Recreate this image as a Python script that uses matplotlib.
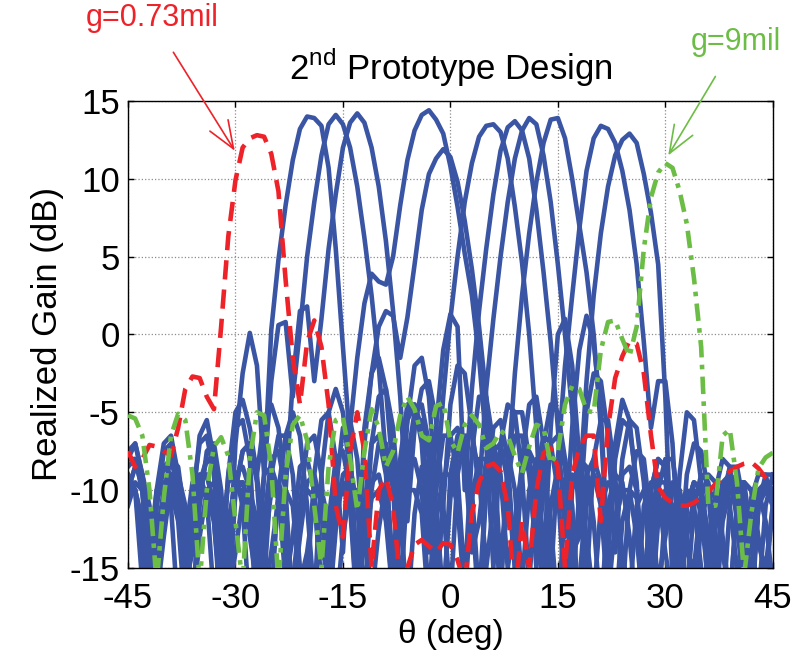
import numpy as np
import matplotlib
matplotlib.use('Agg')
import matplotlib.pyplot as plt

plt.rcParams['font.family'] = ['Liberation Sans', 'DejaVu Sans']
plt.rcParams['mathtext.fontset'] = 'custom'
plt.rcParams['mathtext.rm'] = 'Liberation Sans'
plt.rcParams['axes.unicode_minus'] = False

# scan angle grid (deg)
theta = np.arange(-45, 46, 1)

# realized gain (dB) of the 11 switched beams, one list per beam
beams = [
    # beam 1, peak near -20 deg
    [-8, -7, -9, -14, -18, -10, -8, -8.5, -12, -18,
     -11, -7.5, -7, -10, -16, -7, -2.5, 0.1, -2, -9,
     0.3, 4.8, 8.3, 11.2, 13.2, 14.0, 13.9, 13.4, 10.7, 5.5,
     -0.8, -7, -16, -6, -2.5, -1.5, -3.5, -9, -17, -8,
     -5, -4.5, -7, -13, -18, -9, -6.5, -7, -11, -18,
     -10, -7.5, -7, -9.5, -15, -9, -7.5, -8.5, -14, -11,
     -8.5, -8, -11, -18, -11, -9, -10, -14, -18, -12,
     -10, -10.5, -15, -18, -12, -10, -11, -16, -13, -10.5,
     -10, -13, -18, -12, -10, -10.5, -15, -17, -11, -10,
     -11],
    # beam 2, peak near -16 deg
    [-8.5, -8, -10, -16, -11, -7.5, -7, -9, -17, -11,
     -6.5, -5.5, -8, -15, -9, -6, -5.5, -8, -16, -9,
     -3, 0.6, 0.8, -4, 0.3, 5, 8.5, 11.5, 13.5, 14.1,
     13.5, 12, 9.5, 6.2, 2.5, -2, -8, -16, -9, -5.5,
     -4.5, -6, -11, -18, -10, -6.5, -6, -8, -14, -12,
     -8, -7, -9, -15, -12, -8.5, -8, -10.5, -17, -11,
     -9, -9.5, -14, -16, -10, -9, -11, -17, -12, -10,
     -10, -13, -18, -12, -9.5, -9.5, -12.5, -17, -11, -10,
     -11.5, -16, -12, -9.5, -9, -11, -16, -13, -10, -9.5,
     -10.5],
    # beam 3, peak near -13 deg
    [-7.5, -7, -9, -15, -10, -7, -6.5, -9, -16, -10.5,
     -7, -6.5, -9, -16, -9, -5, -4.2, -6, -9, -5.5,
     -4.5, -6, -10, -3, 1.5, 1.8, -3, 1, 5.5, 9,
     12, 13.6, 14.2, 13.6, 12, 9.5, 6, 1.5, -4, -12,
     -6, -3.5, -3, -5.5, -11, -17, -9, -6.5, -6.5, -9,
     -15, -11, -8, -7.5, -10, -16, -10, -8, -8.5, -12,
     -18, -11, -9, -9.5, -13, -17, -11, -9.5, -10, -14,
     -17, -11, -10, -11, -16, -13, -10, -10, -13, -18,
     -12, -10, -10.5, -14, -17, -11, -9.5, -10, -13, -16,
     -11],
    # beam 4, peak near -3 deg
    [-10, -8.5, -9, -12, -18, -11, -9, -9.5, -13, -18,
     -10, -8, -8, -11, -17, -10, -7.5, -7, -9.5, -16,
     -9, -6.5, -6.5, -9, -15, -16, -9, -5.5, -5, -8,
     -14, -6, -1.5, 2, 3.9, 3.4, 3.2, 5, 8.3, 11.2,
     13.1, 14.1, 14.4, 13.8, 12.9, 10.8, 8.2, 5.2, 2.5, -1.5,
     -7, -15, -7, -4.5, -5, -9, -16, -9, -6.5, -7,
     -10, -17, -10, -8, -8.5, -12, -18, -11, -9, -9.5,
     -13, -18, -11, -9.5, -10, -14, -17, -11, -10, -11,
     -15, -16, -11, -10, -11, -15, -14, -10.5, -10, -12,
     -16],
    # beam 5, peak near -1 deg
    [-9, -10, -14, -17, -11, -8.5, -8, -10, -15, -14,
     -9.5, -8, -8.5, -12, -18, -10, -7.5, -7, -9, -14,
     -17, -10, -6.5, -5, -6.5, -11, -17, -9, -5, -3.5,
     -5, -9, -15, -7, -2.5, 0.5, 1.5, 1.2, -1.5, 1.1,
     4.5, 8, 10.3, 11.3, 11.9, 11.4, 9.8, 7.3, 4.2, 0.5,
     -4, -10, -17, -8, -5, -5, -8, -15, -10, -7,
     -6.5, -8.5, -14, -13, -9, -8, -9.5, -15, -13, -9,
     -8.5, -10, -16, -12, -9, -9, -12, -18, -11, -9.5,
     -10, -13.5, -17, -11, -9.5, -10, -14, -15, -10.5, -9.5,
     -10],
    # beam 6, peak near 5.6 deg
    [-11, -9.5, -10, -14, -15, -10.5, -9.5, -10.5, -16, -13,
     -9.5, -9, -11, -18, -13, -9, -8.5, -10, -17, -12,
     -8, -7.5, -10, -18, -11, -7, -6.5, -9, -17, -10,
     -6, -5.5, -8, -14, -7, -4, -3.5, -6, -12, -5.5,
     -2, -1.5, -4, -10, -4, 1, 5, 8.5, 11, 12.7,
     13.4, 13.5, 13, 11.3, 8.2, 4.6, 0, -6, -15, -6,
     0, 1, -2, -8, -16, -8, -5.5, -5.5, -9, -17,
     -10, -7.5, -8, -12, -18, -11, -9.5, -10, -14, -15,
     -10.5, -9, -9.5, -13, -17, -11, -9.5, -10, -13.5, -15,
     -11],
    # beam 7, peak near 8.8 deg
    [-9, -10, -16, -14, -10, -9.5, -11, -18, -13, -9.5,
     -9, -10.5, -17, -13, -9.5, -9, -11, -18, -13, -9,
     -8.5, -10, -16, -13, -8.5, -8, -10, -17, -12, -8,
     -7.5, -10, -18, -11, -7, -6.5, -9, -15, -8, -4.5,
     -4.5, -7, -14, -6, -1, 1.3, 0.5, -10, -3.5, 1.5,
     5.5, 9, 11.8, 13.3, 13.7, 13.1, 11.3, 8, 4, -0.5,
     -6, -13, -6, -1, 1.2, -0.5, -5, -14, -8, -5.5,
     -6, -9.5, -17, -10, -8, -8.5, -12, -18, -11, -9.5,
     -10, -13, -17, -11, -9, -9.5, -13, -18, -11, -9.5,
     -9.5],
    # beam 8, peak near 11.3 deg
    [-10, -10, -12, -17, -14, -10.5, -10, -11, -16, -14,
     -10.5, -10, -12, -18, -13, -10, -9.5, -11, -17, -14,
     -10, -9.5, -11, -17, -13, -9.5, -9, -11, -18, -12.5,
     -9, -8.5, -11, -17, -10, -7, -7, -10, -17, -9.5,
     -6, -5.5, -8, -16, -11, -4.5, -2, -2.5, -6, -10,
     -3.5, 1, 5, 8.5, 11.3, 13.1, 13.9, 13.5, 11.5, 8.5,
     4.5, 0, -5, -12, -5, -2.5, -3, -6.5, -14, -8,
     -5.5, -6, -9.5, -16, -10, -8, -8, -11, -17, -11,
     -9, -9.5, -13, -18, -11, -9.5, -9.5, -13, -17, -11,
     -9],
    # beam 9, peak near 14.6 deg
    [-10.5, -10, -12, -18, -13, -10, -10, -12, -18, -12.5,
     -10, -10, -12, -17, -12, -10, -10, -13, -16, -11.5,
     -10, -10.5, -14, -16, -11.5, -10, -10.5, -16, -14, -10,
     -9.5, -11, -18, -13, -9.5, -9, -11, -17, -11, -8,
     -8, -10, -17, -10, -6.5, -6.5, -9, -16, -7.5, -4,
     -4, -7, -15, -9, -2.5, 2.5, 6.5, 9.8, 12.3, 13.8,
     13.9, 12.6, 10, 7, 4, 0, -6, -14, -7, -4.2,
     -5.5, -10, -17, -10, -8, -8.5, -12, -18, -11, -9.5,
     -10, -13.5, -16, -10.5, -9, -9.5, -13, -17, -11, -9.5,
     -10],
    # beam 10, peak near 21.3 deg
    [-10, -8.5, -9, -11, -17, -13, -9.5, -9, -11, -18,
     -13, -10, -9.5, -11, -17, -14, -10.5, -10, -12, -17,
     -14, -10.5, -10, -11, -16, -14, -10.5, -10, -12, -18,
     -13, -10, -10, -11.5, -17, -12.5, -9.5, -9, -11, -18,
     -11.5, -8.5, -8.5, -11, -17, -10.5, -7.5, -7.5, -10, -17,
     -9.5, -6, -5.5, -8, -15, -8, -4.5, -4, -7, -16,
     -8, -2, 2.5, 6.8, 10.5, 12.6, 13.4, 13.2, 12.3, 10.5,
     8, 4.5, -0.5, -6, -3, -3, -7, -15, -9, -7,
     -7.5, -10, -16, -10.5, -8.5, -8.5, -11, -17, -11, -9,
     -9],
    # beam 11, peak near 24.8 deg
    [-8, -8, -10, -16, -10.5, -8.5, -9, -11, -17, -11.5,
     -9, -9, -11, -17, -12, -9.5, -9.5, -11.5, -18, -13,
     -10, -10, -12, -17, -11.5, -10, -10.5, -14, -15, -11,
     -10, -11, -16, -13.5, -10.5, -10, -12, -17, -12.5, -10,
     -10, -11.5, -18, -12, -9, -9, -11, -17, -10.5, -8,
     -8, -10, -16, -9.5, -6.5, -6.5, -9, -14, -7, -4.5,
     -5, -8, -17, -10, -3, 2.5, 6.5, 9.5, 11.5, 12.5,
     12.9, 12.3, 10.3, 7.8, 4.5, -4, -16, -9, -5, -5.5,
     -9.5, -17, -10, -8, -8.5, -12, -17, -10.5, -9, -9,
     -11],
]

# g = 0.73 mil case
gain_073 = [-7.5, -8.5, -8, -7.1, -7.2, -7.5, -7.8, -6, -3.5, -2.7,
            -2.8, -4, -4.8, 0.5, 6.3, 9.9, 12.0, 12.6, 12.8, 12.7,
            11.6, 9.2, 3.5, -1.5, -4.5, -0.5, 0.9, -0.8, -4.5, -11,
            -13, -7.5, -5, -7.5, -15, -10, -9.2, -11, -16, -15,
            -13.5, -13.2, -13.6, -14, -13.4, -13.5, -14.5, -16, -11.5, -9.5,
            -8.5, -8.3, -8.8, -11, -17, -12, -15, -10, -7.6, -7.3,
            -8.5, -15, -9, -7.3, -6.5, -6.5, -12, -6, -2.8, -1.4,
            -0.4, -0.6, -2.5, -6.5, -9.8, -10.5, -10.8, -11, -11, -10.8,
            -10.5, -10.1, -9.6, -9.2, -8.8, -8.5, -8.3, -8.2, -8.6, -9.2,
            -9.6]

# g = 9 mil case
gain_9 = [-5.2, -5.4, -6.5, -10, -16, -10.5, -6.5, -5.1, -5.5, -9,
          -16, -10, -7.2, -6.6, -7.8, -12, -16, -8, -5, -5.2,
          -8.5, -16, -9, -5.8, -5.2, -6.8, -11, -15, -8.5, -5.5,
          -5.3, -8, -11.3, -7.5, -4.8, -6, -8.5, -7.5, -5.2, -4,
          -4.8, -6.5, -6.8, -4.6, -4.4, -6.8, -7.6, -5.8, -5.2, -5.8,
          -7.3, -7, -6.2, -6.5, -7.8, -8.9, -7.2, -5.8, -6, -8.3,
          -7.5, -4.5, -3.3, -3.5, -4.9, -5, -1, 0.8, 0.9, -0.3,
          -1.4, 0.5, 5.5, 8.8, 10.4, 11.0, 10.7, 9.2, 7.1, 3.6,
          -0.8, -11, -11, -6.5, -6.1, -9.5, -15.5, -11.5, -8.6, -7.9,
          -7.6]

blue = '#3A55A4'
red = '#EE2229'
green = '#6CBD45'

fig = plt.figure(figsize=(8.05, 6.64), dpi=100)
ax = fig.add_axes([0.159, 0.1446, 0.801, 0.7034])

for g in beams:
    ax.plot(theta, g, color=blue, lw=3.3, solid_joinstyle='round', zorder=2)
ax.plot(theta, gain_073, color=red, lw=3.3, dashes=(4.2, 2.2), zorder=3)
ax.plot(theta, gain_9, color=green, lw=3.3, dashes=(3.8, 1.6, 1.0, 1.6), zorder=3)

ax.set_xlim(-45, 45)
ax.set_ylim(-15, 15)
ax.set_xticks(np.arange(-45, 46, 15))
ax.set_yticks(np.arange(-15, 16, 5))
ax.grid(True, color='#8c8c8c', linestyle=':', linewidth=0.9)
ax.tick_params(direction='in', top=True, right=True, length=4, width=1,
               labelsize=25)
ax.tick_params(axis='x', pad=10)
ax.tick_params(axis='y', pad=6)
for sp in ax.spines.values():
    sp.set_linewidth(1.0)

ax.set_xlabel('θ (deg)', fontsize=24, labelpad=3)
ax.set_ylabel('Realized Gain (dB)', fontsize=25, labelpad=4)
ax.set_title(r'2$^{\mathrm{nd}}$ Prototype Design', fontsize=25, pad=15)

ax.annotate('g=0.73mil', xy=(-30.1, 11.8), xycoords='data',
            xytext=(152 / 805, 1 - 18 / 664), textcoords='figure fraction',
            ha='center', va='center', fontsize=22, color=red,
            arrowprops=dict(arrowstyle='->,head_length=0.9,head_width=0.35',
                            color=red, lw=1.2, shrinkA=14, shrinkB=0))
ax.annotate('g=9mil', xy=(30.4, 11.5), xycoords='data',
            xytext=(736 / 805, 1 - 42 / 664), textcoords='figure fraction',
            ha='center', va='center', fontsize=22, color=green,
            arrowprops=dict(arrowstyle='->,head_length=0.9,head_width=0.35',
                            color=green, lw=1.2, shrinkA=14, shrinkB=0))

fig.savefig('out.png', dpi=100)
